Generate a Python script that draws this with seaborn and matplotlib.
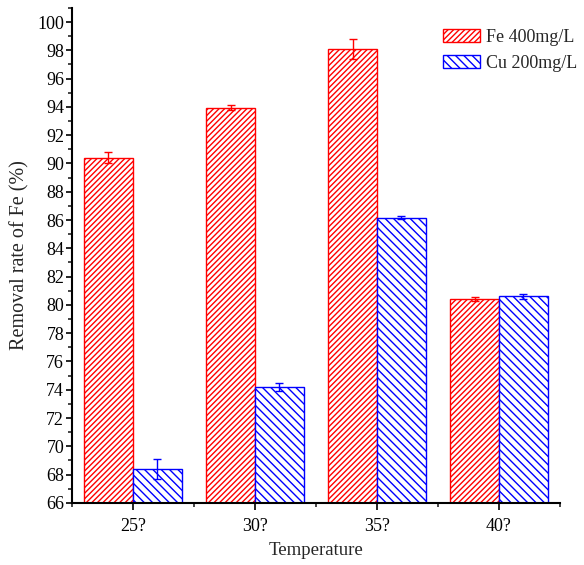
import pandas as pd
import seaborn as sns
import matplotlib.pyplot as plt
from matplotlib.patches import Patch
from matplotlib.ticker import MultipleLocator, FixedLocator

# Данные
temps = ["25?", "30?", "35?", "40?"]
series = ["Fe 400mg/L", "Cu 200mg/L"]
fe_vals = [90.4, 93.95, 98.1, 80.4]
fe_err = [0.38, 0.2, 0.7, 0.15]
cu_vals = [68.4, 74.2, 86.15, 80.6]
cu_err = [0.7, 0.3, 0.1, 0.2]

colors = ["#ff0000", "#0000ff"]
hatches = ["//////", "\\\\\\\\"]

df = pd.DataFrame({
    "Temperature": temps * 2,
    "series": [series[0]] * 4 + [series[1]] * 4,
    "value": fe_vals + cu_vals,
})

sns.set_style("ticks")
plt.rcParams["font.family"] = ["Liberation Serif", "DejaVu Serif"]
plt.rcParams["hatch.linewidth"] = 1.0

fig = plt.figure(figsize=(5.84, 5.65), dpi=100)
ax = fig.add_axes([0.123, 0.110, 0.836, 0.876])

sns.barplot(data=df, x="Temperature", y="value", hue="series", order=temps,
            hue_order=series, errorbar=None, width=0.8, legend=False, ax=ax)

errs = [fe_err, cu_err]
bar_containers = list(ax.containers)
for i, cont in enumerate(bar_containers):
    xs, ys = [], []
    for p in cont.patches:
        p.set_facecolor("white")
        p.set_edgecolor(colors[i])
        p.set_hatch(hatches[i])
        p.set_linewidth(1.0)
        xs.append(p.get_x() + p.get_width() / 2)
        ys.append(p.get_height())
    ax.errorbar(xs, ys, yerr=errs[i], fmt="none", ecolor=colors[i],
                elinewidth=1.0, capsize=2.8, capthick=1.0)

ax.set_xlim(-0.5, 3.5)
ax.set_yticks(range(66, 101, 2))
ax.yaxis.set_minor_locator(MultipleLocator(1))
ax.xaxis.set_minor_locator(FixedLocator([-0.5, 0.5, 1.5, 2.5, 3.5]))
ax.set_ylim(66, 101)
ax.tick_params(axis="y", which="major", direction="out", length=4, width=1.2,
               labelsize=13, pad=1.5, colors="black")
ax.tick_params(axis="x", which="major", direction="out", length=5, width=1.2,
               labelsize=13, pad=6, colors="black")
ax.tick_params(axis="both", which="minor", direction="out", length=3, width=1.2)

for s in ["top", "right"]:
    ax.spines[s].set_visible(False)
for s in ["left", "bottom"]:
    ax.spines[s].set_linewidth(1.5)
    ax.spines[s].set_color("black")

ax.set_xlabel("Temperature", fontsize=13.5, labelpad=5)
ax.set_ylabel("Removal rate of Fe (%)", fontsize=14.5, labelpad=6)

handles = [Patch(facecolor="white", edgecolor=colors[i], hatch=hatches[i], label=series[i])
           for i in range(2)]
ax.legend(handles=handles, loc="upper right", bbox_to_anchor=(1.035, 0.958), frameon=False,
          fontsize=13, handlelength=2.1, handleheight=0.75, handletextpad=0.3,
          labelspacing=0.5, borderpad=0, borderaxespad=0)

plt.savefig("out.png", dpi=100)
